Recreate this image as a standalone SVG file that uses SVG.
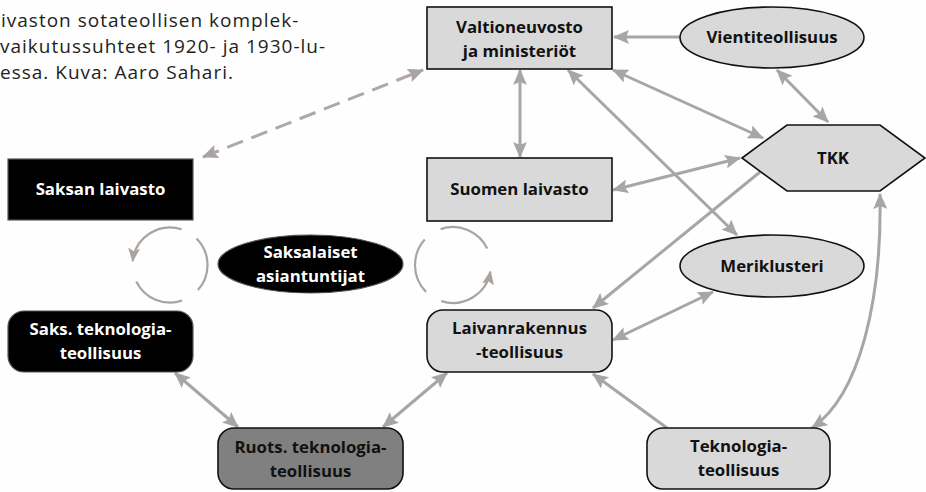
<svg xmlns="http://www.w3.org/2000/svg" width="926" height="492" viewBox="0 0 926 492">
<style>
.cap{font-family:"Open Sans","Liberation Sans",sans-serif;font-size:19px;letter-spacing:1px;fill:#231f20}
.lbl{font-family:"Open Sans","Liberation Sans",sans-serif;font-size:16.8px;font-weight:700;text-anchor:middle;fill:#111}
.wl{fill:#fff}
.box{fill:#d9d9d9;stroke:#111;stroke-width:1.6}
.blk{fill:#000;stroke:#555;stroke-width:1.2}
.con{fill:none;stroke:#a6a6a6;stroke-width:3}
.dash{fill:none;stroke:#b0a8a6;stroke-width:3;stroke-dasharray:17 9}
.arc{fill:none;stroke:#aaa39f;stroke-width:2.2}
</style>
<defs>
<marker id="ah" viewBox="0 0 16 14" refX="15" refY="7" markerWidth="16" markerHeight="14" markerUnits="userSpaceOnUse" orient="auto-start-reverse"><path d="M0,0 L16,7 L0,14 L3,7 z" fill="#a6a6a6"/></marker>
<marker id="ahd" viewBox="0 0 16 14" refX="15" refY="7" markerWidth="16" markerHeight="14" markerUnits="userSpaceOnUse" orient="auto-start-reverse"><path d="M0,0 L16,7 L0,14 L3,7 z" fill="#a9a3a1"/></marker>
<marker id="ahc" viewBox="0 0 14 12" refX="13" refY="6" markerWidth="14" markerHeight="12" markerUnits="userSpaceOnUse" orient="auto"><path d="M0,0 L14,6 L0,12 L3,6 z" fill="#aaa39f"/></marker>
</defs>
<rect width="926" height="492" fill="#fefefe"/>
<g id="caption">
<text class="cap" x="1" y="27">ivaston sotateollisen komplek-</text>
<text class="cap" x="0" y="53">vaikutussuhteet 1920- ja 1930-lu-</text>
<text class="cap" x="0" y="79">essa. Kuva: Aaro Sahari.</text>
</g>
<g id="connectors">
<path class="dash" d="M203,157 L423,70" marker-start="url(#ahd)" marker-end="url(#ahd)"/>
<path class="con" d="M680,37 L614,37" marker-end="url(#ah)"/>
<path class="con" d="M520,70 L520,157" marker-start="url(#ah)" marker-end="url(#ah)"/>
<path class="con" d="M568,70 L737,235" marker-start="url(#ah)" marker-end="url(#ah)"/>
<path class="con" d="M613,70 L763,138" marker-start="url(#ah)" marker-end="url(#ah)"/>
<path class="con" d="M777,70 L828,122" marker-start="url(#ah)" marker-end="url(#ah)"/>
<path class="con" d="M613,190 L740,158" marker-start="url(#ah)" marker-end="url(#ah)"/>
<path class="con" d="M760,172 L593,308" marker-end="url(#ah)"/>
<path class="con" d="M613,340 L713,292" marker-start="url(#ah)" marker-end="url(#ah)"/>
<path class="con" d="M880,194 C882,300 860,395 812,428" marker-start="url(#ah)" marker-end="url(#ah)"/>
<path class="con" d="M667,428 L593,374" marker-end="url(#ah)"/>
<path class="con" d="M175,373 L238,427" marker-start="url(#ah)" marker-end="url(#ah)"/>
<path class="con" d="M383,427 L447,373" marker-start="url(#ah)" marker-end="url(#ah)"/>
<path class="arc" d="M181.6,229.3 A37.5,37.5 0 0 0 132.7,261.1" marker-end="url(#ahc)"/>
<path class="arc" d="M196.5,238.5 A37.5,37.5 0 0 1 197.9,290.1"/>
<path class="arc" d="M182.2,300.5 A37.5,37.5 0 0 1 136.3,281.4"/>
<path class="arc" d="M441.3,301.1 A38,38 0 0 0 490.4,271.6" marker-end="url(#ahc)"/>
<path class="arc" d="M426.1,291.9 A38,38 0 0 1 424.8,239.6"/>
<path class="arc" d="M440.6,229.1 A38,38 0 0 1 487.2,248.4"/>
</g>
<g id="valtioneuvosto">
<rect class="box" x="427" y="7" width="185" height="62"/>
<text class="lbl" x="519.5" y="33">Valtioneuvosto</text>
<text class="lbl" x="519.5" y="57">ja ministeriöt</text>
</g>
<g id="vientiteollisuus">
<ellipse class="box" cx="772" cy="37.5" rx="92" ry="30.5"/>
<text class="lbl" x="772" y="43">Vientiteollisuus</text>
</g>
<g id="tkk">
<polygon class="box" points="742,158 787,125 880,125 925,158 880,191 787,191"/>
<text class="lbl" x="833" y="164">TKK</text>
</g>
<g id="saksan-laivasto">
<rect class="blk" x="8" y="159" width="185" height="61"/>
<text class="lbl wl" x="100.5" y="195">Saksan laivasto</text>
</g>
<g id="suomen-laivasto">
<rect class="box" x="427" y="158" width="185" height="63"/>
<text class="lbl" x="519.5" y="195">Suomen laivasto</text>
</g>
<g id="saksalaiset-asiantuntijat">
<ellipse class="blk" cx="310.5" cy="264" rx="92.5" ry="29"/>
<text class="lbl wl" x="310.5" y="258">Saksalaiset</text>
<text class="lbl wl" x="310.5" y="282">asiantuntijat</text>
</g>
<g id="meriklusteri">
<ellipse class="box" cx="772" cy="266" rx="92" ry="31"/>
<text class="lbl" x="772" y="272">Meriklusteri</text>
</g>
<g id="laivanrakennus">
<rect class="box" x="427" y="310" width="185" height="62" rx="16"/>
<text class="lbl" x="519.5" y="334">Laivanrakennus</text>
<text class="lbl" x="519.5" y="358">-teollisuus</text>
</g>
<g id="saks-teknologiateollisuus">
<rect class="blk" x="8" y="311" width="185" height="61" rx="16"/>
<text class="lbl wl" x="100.5" y="335">Saks. teknologia-</text>
<text class="lbl wl" x="100.5" y="359">teollisuus</text>
</g>
<g id="ruots-teknologiateollisuus">
<rect class="box" style="fill:#808080" x="218" y="428" width="185" height="61" rx="16"/>
<text class="lbl" x="310.5" y="453">Ruots. teknologia-</text>
<text class="lbl" x="310.5" y="477">teollisuus</text>
</g>
<g id="teknologiateollisuus">
<rect class="box" x="647" y="428" width="183" height="61" rx="16"/>
<text class="lbl" x="738.5" y="452">Teknologia-</text>
<text class="lbl" x="738.5" y="476">teollisuus</text>
</g>
</svg>
